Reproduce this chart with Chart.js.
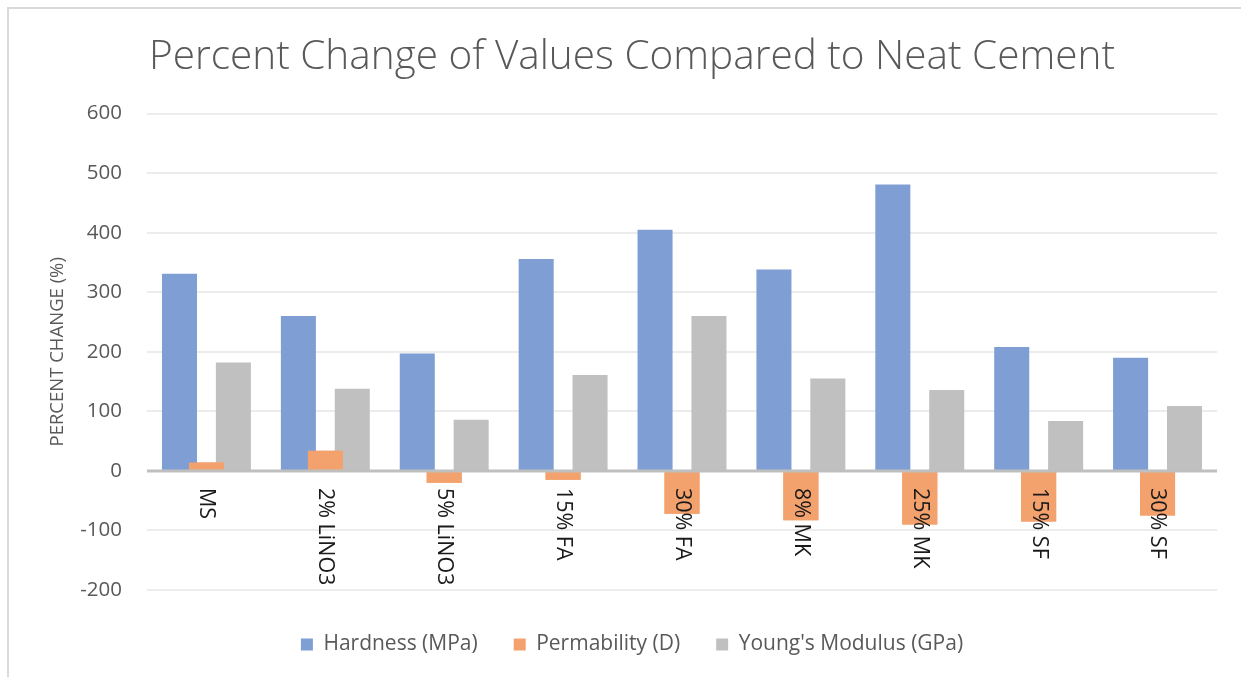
<!DOCTYPE html>
<html>
<head>
<meta charset="utf-8">
<title>Percent Change of Values Compared to Neat Cement</title>
<script src="https://cdn.jsdelivr.net/npm/chart.js@4.4.1/dist/chart.umd.min.js"></script>
<style>
  html, body { margin: 0; padding: 0; background: #fff; }
  #wrap { position: relative; width: 1241px; height: 677px; overflow: hidden; }
  #frame { position: absolute; left: 7px; top: 7px; width: 1250px; height: 690px;
           border-top: 2px solid #d9d9d9; border-left: 2px solid #d9d9d9; }
  canvas { position: absolute; left: 0; top: 0; }
</style>
</head>
<body>
<div id="wrap">
  <div id="frame"></div>
  <canvas id="chart" width="1241" height="677"></canvas>
</div>
<script>
// categories along the x axis
const categories = ['MS', '2% LiNO3', '5% LiNO3', '15% FA', '30% FA', '8% MK', '25% MK', '15% SF', '30% SF'];

// percent change per series
const hardness = [331, 260, 197, 356, 405, 338, 481, 208, 190];
const permability = [14, 34, -20, -15, -72, -83, -90, -85, -75];
const youngsModulus = [182, 138, 86, 161, 260, 155, 136, 84, 109];

// y axis ticks
const yTicks = [-200, -100, 0, 100, 200, 300, 400, 500, 600];

const grey = '#595959';

// orange bars on top, zero line over the bars, category names turned clockwise
const catLabels = {
  id: 'catLabels',
  afterDatasetsDraw(chart) {
    const { ctx, chartArea, scales: { x, y } } = chart;
    chart.getDatasetMeta(1).controller.draw();

    const y0 = y.getPixelForValue(0);
    ctx.save();
    ctx.strokeStyle = '#bfbfbf';
    ctx.lineWidth = 3;
    ctx.beginPath();
    ctx.moveTo(chartArea.left, y0);
    ctx.lineTo(chartArea.right, y0);
    ctx.stroke();

    ctx.font = '21.5px "Open Sans"';
    ctx.fillStyle = '#1a1a1a';
    ctx.textAlign = 'left';
    ctx.textBaseline = 'middle';
    categories.forEach((c, i) => {
      ctx.save();
      ctx.translate(x.getPixelForValue(i), y0 + 17);
      ctx.rotate(Math.PI / 2);
      ctx.fillText(c, 0, 0);
      ctx.restore();
    });
    ctx.restore();
  }
};

new Chart(document.getElementById('chart'), {
  type: 'bar',
  data: {
    labels: categories,
    datasets: [
      { label: 'Hardness (MPa)', data: hardness, backgroundColor: '#7f9ed3' },
      { label: 'Permability (D)', data: permability, backgroundColor: '#f3a26d' },
      { label: "Young's Modulus (GPa)", data: youngsModulus, backgroundColor: '#c0c0c0' }
    ]
  },
  options: {
    responsive: false,
    animation: false,
    categoryPercentage: 0.68,
    barPercentage: 1.3,
    layout: { padding: { left: 47, right: 24, top: 15, bottom: 12 } },
    plugins: {
      title: {
        display: true,
        text: 'Percent Change of Values Compared to Neat Cement',
        color: grey,
        font: { family: 'Open Sans', size: 40.5, weight: '300' },
        padding: { top: 18, bottom: 32 }
      },
      legend: {
        position: 'bottom',
        labels: {
          color: grey,
          font: { family: 'Open Sans', size: 21 },
          boxWidth: 12,
          boxHeight: 12,
          padding: 36
        }
      },
      tooltip: { enabled: false }
    },
    scales: {
      x: {
        ticks: { display: false },
        grid: { display: false },
        border: { display: false }
      },
      y: {
        min: -200,
        max: 600,
        afterBuildTicks: (scale) => { scale.ticks = yTicks.map(v => ({ value: v })); },
        afterFit: (scale) => { scale.width = 100; },
        ticks: {
          color: grey,
          font: { family: 'Open Sans', size: 20.5 },
          padding: 25
        },
        grid: {
          color: (c) => (c.tick && c.tick.value === 0 ? 'rgba(0,0,0,0)' : '#ececec'),
          lineWidth: 2,
          drawTicks: false
        },
        border: { display: false },
        title: {
          display: true,
          text: 'PERCENT CHANGE (%)',
          color: grey,
          font: { family: 'Open Sans', size: 18.5 },
          padding: { top: 0, bottom: 10 }
        }
      }
    }
  },
  plugins: [catLabels]
});
</script>
</body>
</html>
